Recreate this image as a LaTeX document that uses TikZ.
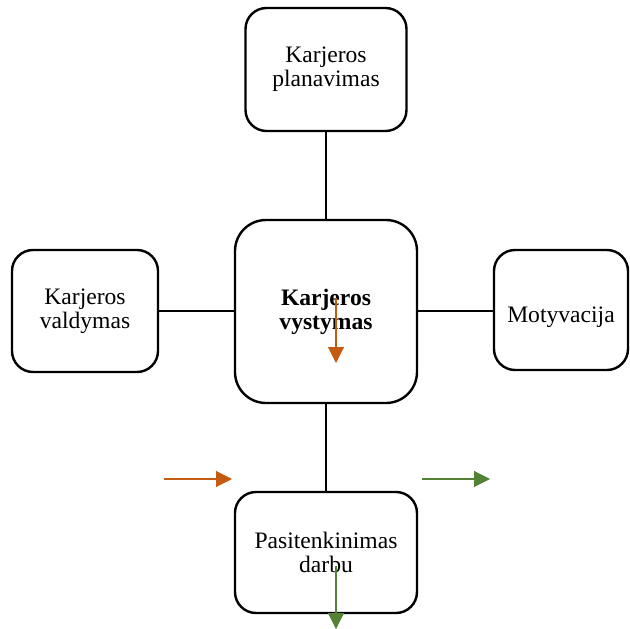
\documentclass[tikz,border=0pt]{standalone}
\usepackage{fontspec}
\setmainfont{Liberation Serif}
\usetikzlibrary{arrows.meta}
\definecolor{arrorange}{HTML}{C55A11}
\definecolor{arrgreen}{HTML}{538135}
\begin{document}
\begin{tikzpicture}[x=1pt,y=-1pt,
  topic/.style={draw=black,line width=2.4pt,fill=white,rounded corners=21pt,
    align=center,inner sep=0pt,font=\fontsize{23.6}{24}\selectfont},
  link/.style={line width=2.4pt,draw=black},
  flow/.style={line width=1.1pt,-{Triangle[length=16pt,width=16pt]}}]
\useasboundingbox (0,0) rectangle (630,629);
% topic boxes
\node[topic,minimum width=161pt,minimum height=123pt] (plan) at (326,69.5) {Karjeros\\planavimas};
\node[topic,rounded corners=31pt,minimum width=182pt,minimum height=183pt,font=\fontsize{23.6}{24}\selectfont\bfseries] (core) at (326,311.5) {Karjeros\\vystymas};
\node[topic,minimum width=146pt,minimum height=122pt] (manage) at (85,311) {Karjeros\\valdymas};
\node[topic,minimum width=134pt,minimum height=120pt,text height=24pt,text depth=0pt] (motiv) at (561,310) {Motyvacija};
\node[topic,minimum width=182pt,minimum height=121pt] (satisf) at (326,552.5) {Pasitenkinimas\\darbu};
% connectors to the central box
\draw[link] (plan.south) -- (core.north);
\draw[link] (manage.east) -- (manage.east -| core.west);
\draw[link] (core.east |- manage.east) -- (motiv.west |- manage.east);
\draw[link] (core.south) -- (satisf.north);
% flow arrows
\coordinate (o1s) at (336,298);
\coordinate (o1e) at (336,363);
\coordinate (o2s) at (164,479);
\coordinate (o2e) at (232,479);
\coordinate (g1s) at (422,479);
\coordinate (g1e) at (490,479);
\coordinate (g2s) at (336,566);
\coordinate (g2e) at (336,629);
\draw[flow,arrorange] (o1s) -- (o1e);
\draw[flow,arrorange] (o2s) -- (o2e);
\draw[flow,arrgreen] (g1s) -- (g1e);
\draw[flow,arrgreen] (g2s) -- (g2e);
\end{tikzpicture}
\end{document}
